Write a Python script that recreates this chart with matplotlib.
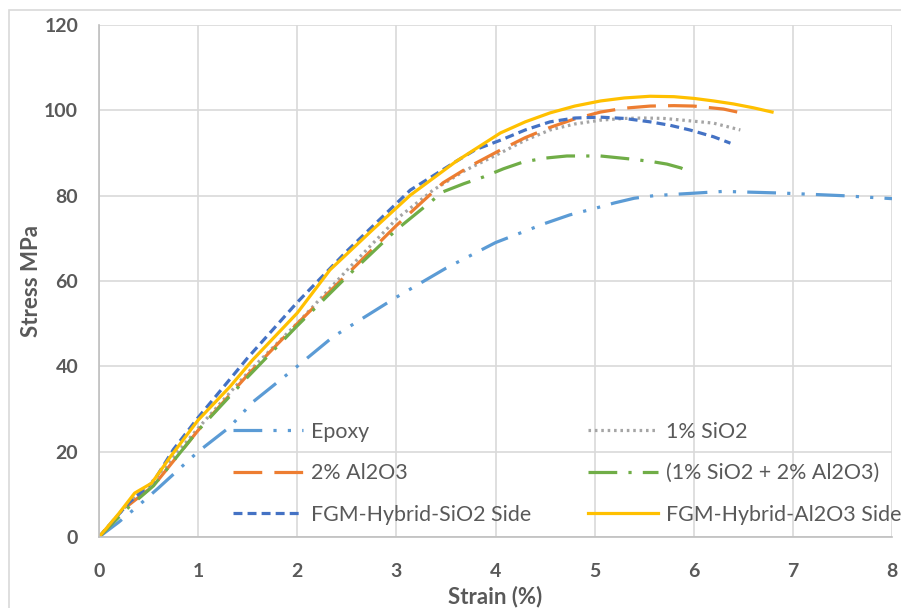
import matplotlib
matplotlib.use("Agg")
from matplotlib import pyplot as plt
from matplotlib.patches import Rectangle

plt.rcParams['font.family'] = ['Lato', 'DejaVu Sans']

# stress-strain data
epoxy_x = [0, 0.2, 0.38, 0.6, 1.0, 1.32, 1.55, 2.0, 2.36, 3.0, 3.5, 4.0, 4.5, 4.75, 5.0, 5.2, 5.4, 5.6, 5.8, 6.3, 6.9, 7.5, 8.0]
epoxy_y = [0, 3.5, 7, 11.5, 20, 25.8, 31.6, 40, 46.9, 56.2, 63, 69, 73.5, 75.5, 77, 78.3, 79.4, 80, 80.3, 81, 80.6, 80, 79.3]

sio2_x = [0, 0.3, 0.5, 1.0, 1.5, 2.03, 2.5, 3.0, 3.37, 3.7, 4.05, 4.3, 4.55, 4.8, 5.06, 5.3, 5.5, 5.7, 5.89, 6.2, 6.47]
sio2_y = [0, 8, 12, 25.5, 38.5, 50.8, 62.5, 74.5, 81.3, 86, 90, 93, 95.4, 96.8, 97.7, 98.1, 98.2, 98.1, 97.7, 97, 95.4]

al2o3_x = [0, 0.3, 0.55, 1.0, 1.5, 2.0, 2.5, 3.0, 3.47, 3.75, 4.05, 4.3, 4.55, 4.8, 5.06, 5.3, 5.56, 5.8, 6.0, 6.3, 6.54]
al2o3_y = [0, 7.5, 12, 25, 38, 50, 61.5, 73, 83, 87, 90.7, 93.6, 96, 98, 99.6, 100.5, 101, 101.1, 101, 100.3, 99.1]

mix_x = [0, 0.3, 0.55, 1.0, 1.5, 2.0, 2.5, 3.0, 3.47, 3.68, 3.88, 4.08, 4.28, 4.5, 4.72, 5.06, 5.4, 5.6, 5.73, 5.87, 5.99]
mix_y = [0, 7, 12, 25, 37.5, 49.5, 61, 72, 80.9, 82.8, 84.4, 86.3, 87.9, 88.8, 89.3, 89.3, 88.5, 87.9, 87.4, 86.5, 85.3]

fgm_si_x = [0, 0.3, 0.55, 0.75, 1.0, 1.5, 2.0, 2.5, 3.14, 3.6, 3.8, 4.05, 4.3, 4.55, 4.8, 5.06, 5.3, 5.56, 5.76, 5.96, 6.2, 6.37]
fgm_si_y = [0, 8, 13, 20.5, 28, 42, 55, 67, 81.3, 88, 90.8, 93, 95.4, 97.3, 98.2, 98.4, 98.1, 97.3, 96.5, 95.4, 93.8, 92.3]

fgm_al_x = [0, 0.2, 0.36, 0.53, 0.72, 1.0, 1.32, 1.55, 2.0, 2.33, 2.76, 3.14, 3.6, 4.05, 4.3, 4.55, 4.8, 5.06, 5.3, 5.56, 5.8, 6.0, 6.2, 6.4, 6.6, 6.79]
fgm_al_y = [0, 5.5, 10.3, 12.6, 18.8, 27.4, 35.2, 41.5, 52.5, 62.6, 72, 80.1, 88, 94.7, 97.3, 99.4, 101, 102.2, 102.9, 103.3, 103.2, 102.8, 102.2, 101.5, 100.6, 99.6]

labels = ['Epoxy', '1% SiO2', '2% Al2O3', '(1% SiO2 + 2% Al2O3)',
          'FGM-Hybrid-SiO2 Side', 'FGM-Hybrid-Al2O3 Side']

fig = plt.figure(figsize=(9.01, 6.08), dpi=100)
ax = fig.add_axes([99/901, 1-537/608, 793/901, 512/608])

lw = 2.3
h_ep, = ax.plot(epoxy_x, epoxy_y, color='#5B9BD5', lw=lw, dashes=(9, 3.5, 1, 3.5, 1, 3.5))
h_si, = ax.plot(sio2_x, sio2_y, color='#A5A5A5', lw=lw, dashes=(0.8, 1.2))
h_al, = ax.plot(al2o3_x, al2o3_y, color='#ED7D31', lw=lw, dashes=(9, 3.8))
h_mx, = ax.plot(mix_x, mix_y, color='#70AD47', lw=lw, dashes=(9, 3.5, 1, 3.5))
h_fs, = ax.plot(fgm_si_x, fgm_si_y, color='#4472C4', lw=lw, dashes=(2.8, 1.6))
h_fa, = ax.plot(fgm_al_x, fgm_al_y, color='#FFC000', lw=lw)

ax.set_xlim(0, 8)
ax.set_ylim(0, 120)
ax.set_xticks(range(0, 9))
ax.set_yticks(range(0, 121, 20))
ax.grid(True, color='#D9D9D9', lw=1.2)
ax.set_axisbelow(True)
for s in ['top', 'right']:
    ax.spines[s].set_visible(False)
for s in ['left', 'bottom']:
    ax.spines[s].set_color('#BFBFBF')
    ax.spines[s].set_linewidth(1.2)
ax.tick_params(length=0, colors='#595959', labelsize=14)
ax.tick_params(axis='x', pad=19)
ax.tick_params(axis='y', pad=15)
for t in ax.get_xticklabels() + ax.get_yticklabels():
    t.set_fontweight('bold')
ax.set_xlabel('Strain (%)', fontsize=16, fontweight='bold', color='#595959')
ax.set_ylabel('Stress MPa', fontsize=16, fontweight='bold', color='#595959')
ax.xaxis.label.set_va('center')
ax.yaxis.label.set_va('center')
ax.xaxis.set_label_coords(0.5, (537-597)/512)
ax.yaxis.set_label_coords((32-99)/793, 0.5)

leg = ax.legend([h_ep, h_al, h_fs, h_si, h_mx, h_fa],
                [labels[0], labels[2], labels[4], labels[1], labels[3], labels[5]],
                ncol=2, loc='lower left', bbox_to_anchor=(0.169, 0.024), frameon=False,
                fontsize=15.4, handlelength=3.27, handletextpad=0.37, columnspacing=2.66,
                labelspacing=1.0, borderaxespad=0, borderpad=0, labelcolor='#595959')

fig.patches.append(Rectangle((9/901, -0.05), 1.1, 1-10/608+0.05, transform=fig.transFigure,
                             fill=False, edgecolor='#D9D9D9', lw=1.2))

fig.savefig('out.png', dpi=100)
